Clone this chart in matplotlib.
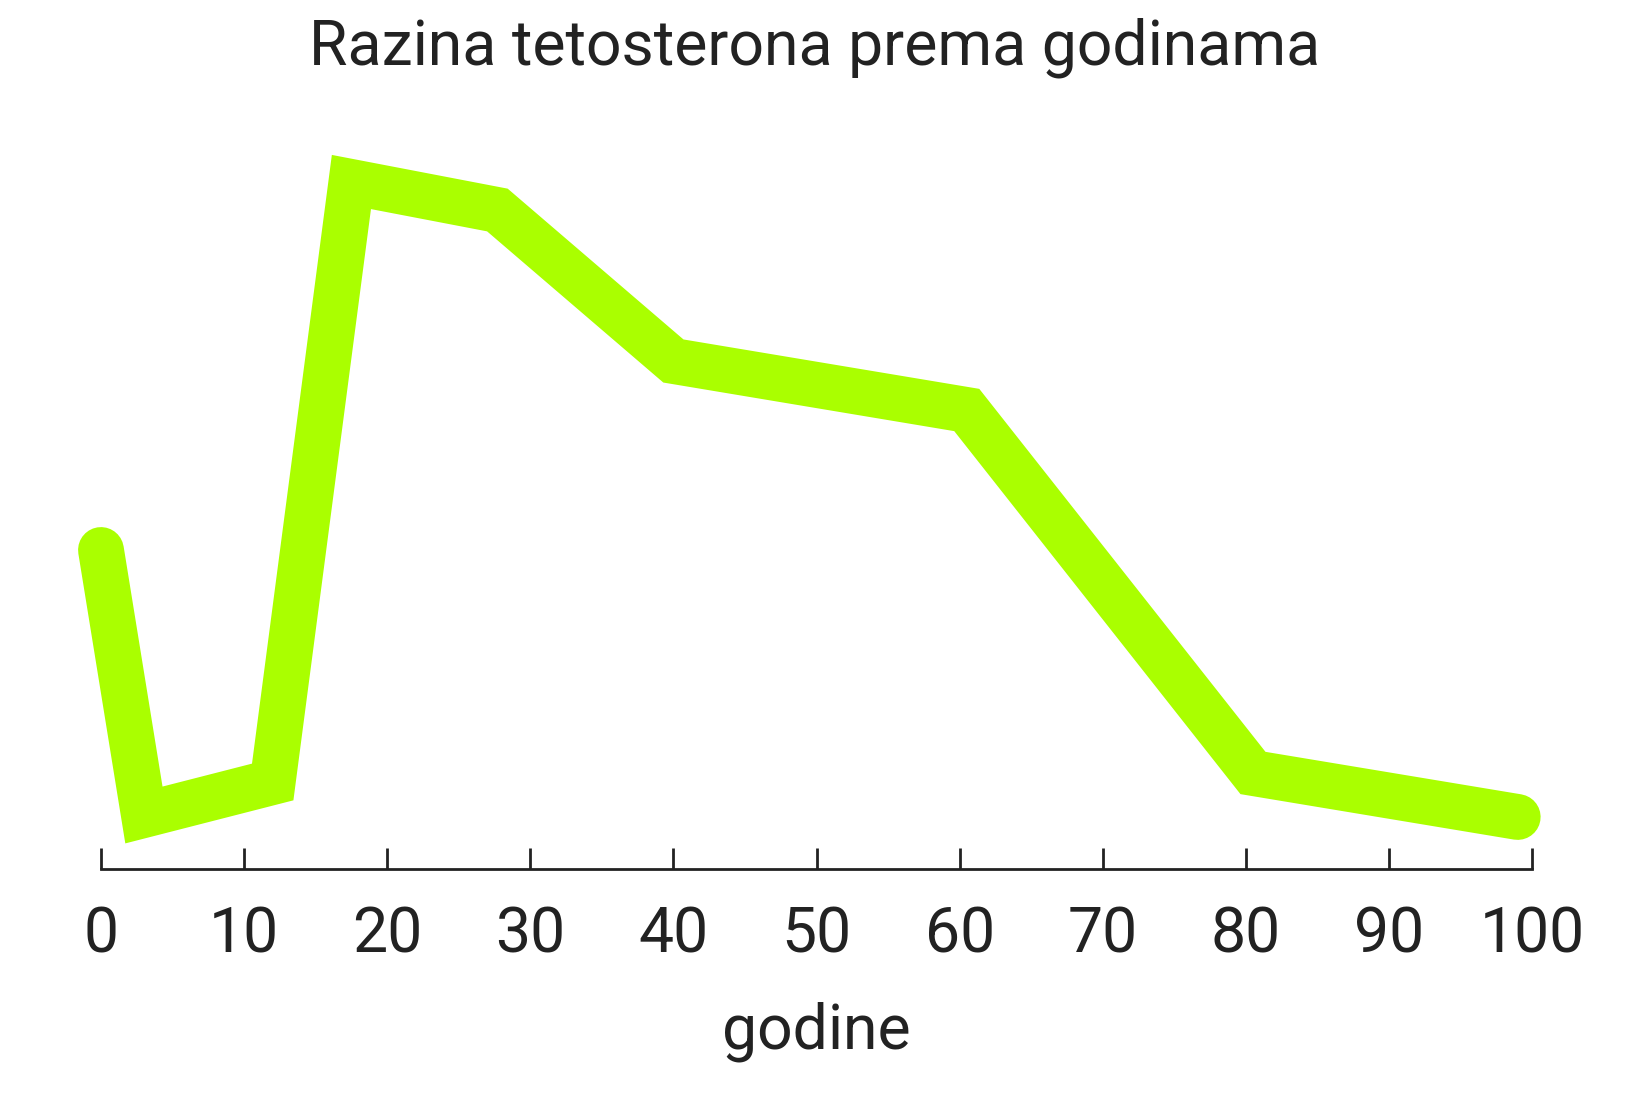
import matplotlib
matplotlib.use("Agg")
import matplotlib.pyplot as plt

# data (relative testosterone level by age)
godine = [0, 3, 12, 17.5, 27.7, 40, 60.5, 80.5, 99]
razina = [31.9, 5.4, 8.7, 68.7, 65.9, 50.8, 45.9, 9.6, 5.2]
x_ticks = list(range(0, 101, 10))

plt.rcParams['font.family'] = ['Roboto', 'DejaVu Sans']
text_color = '#222222'

fig = plt.figure(figsize=(16.5, 10.99), dpi=100)
ax = fig.add_axes([0.0612, 0.2093, 0.8673, 0.6997])

ax.plot(godine, razina, color='#aaff00', linewidth=33,
        solid_joinstyle='miter', solid_capstyle='round', clip_on=False)

ax.set_xlim(0, 100)
ax.set_ylim(0, 76.9)
ax.set_xticks(x_ticks)
ax.set_yticks([])

for side in ['top', 'right', 'left']:
    ax.spines[side].set_visible(False)
ax.spines['bottom'].set_linewidth(2)
ax.spines['bottom'].set_color(text_color)

ax.tick_params(axis='x', direction='in', length=15, width=2, color=text_color,
               labelsize=45, labelcolor=text_color, pad=26)

ax.set_xlabel('godine', fontsize=45, color=text_color, labelpad=26)
fig.text(0.494, 0.957, 'Razina tetosterona prema godinama', fontsize=45,
         color=text_color, ha='center', va='center')

fig.savefig('out.png', dpi=100, facecolor='white')
